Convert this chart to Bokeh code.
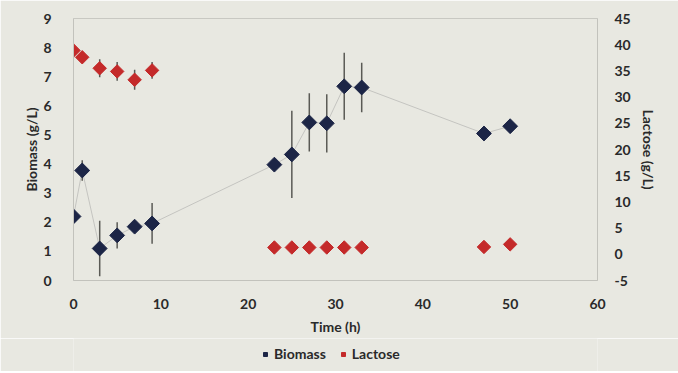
import math
from bokeh.plotting import figure
from bokeh.layouts import column
from bokeh.models import (ColumnDataSource, Range1d, LinearAxis, Whisker, Legend,
                          LegendItem, FixedTicker)
from bokeh.embed import file_html
from bokeh.resources import INLINE

# ---- data ----
bio_time = [0, 1, 3, 5, 7, 9, 23, 25, 27, 29, 31, 33, 47, 50]
biomass = [2.2, 3.78, 1.1, 1.55, 1.85, 1.96, 3.98, 4.33, 5.43, 5.4, 6.67, 6.63, 5.05, 5.3]
biomass_err = [0.15, 0.35, 0.95, 0.45, 0.15, 0.7, 0.1, 1.5, 1.0, 1.0, 1.15, 0.85, 0.1, 0.1]

lac_time = [0, 1, 3, 5, 7, 9, 23, 25, 27, 29, 31, 33, 47, 50]
lactose = [38.9, 37.6, 35.5, 34.9, 33.3, 35.1, 1.3, 1.3, 1.3, 1.3, 1.3, 1.3, 1.4, 1.9]
lactose_err = [0.5, 0.5, 1.7, 1.8, 1.9, 1.6, 0.2, 0.2, 0.2, 0.2, 0.2, 0.2, 0.2, 0.3]

x_ticks = [0, 10, 20, 30, 40, 50, 60]
left_ticks = [0, 1, 2, 3, 4, 5, 6, 7, 8, 9]
right_ticks = [-5, 0, 5, 10, 15, 20, 25, 30, 35, 40, 45]
series_names = ["Biomass", "Lactose"]

BG = "#e8e8e1"
NAVY = "#1c2546"
RED = "#c42a2a"
TXT = "#2a2a2a"
FONT = "Lato"

bio_src = ColumnDataSource(dict(
    x=bio_time, y=biomass,
    lo=[v - e for v, e in zip(biomass, biomass_err)],
    hi=[v + e for v, e in zip(biomass, biomass_err)]))
lac_src = ColumnDataSource(dict(
    x=lac_time, y=lactose,
    lo=[v - e for v, e in zip(lactose, lactose_err)],
    hi=[v + e for v, e in zip(lactose, lactose_err)]))

p = figure(frame_width=524, frame_height=262, output_backend="svg", toolbar_location=None,
           x_range=Range1d(0, 60), y_range=Range1d(0, 9),
           min_border_left=73, min_border_right=81, min_border_top=18,
           min_border_bottom=58)
p.background_fill_color = BG
p.border_fill_color = BG
p.outline_line_color = "#c8c8c2"
p.xgrid.visible = False
p.ygrid.visible = False
p.extra_y_ranges = {"lac": Range1d(-5, 45)}

def style_axis(ax, ticks):
    ax.ticker = FixedTicker(ticks=ticks)
    ax.axis_line_color = "#c2c2bc"
    ax.major_tick_line_color = None
    ax.minor_tick_line_color = None
    ax.major_label_text_font = FONT
    ax.major_label_text_font_style = "bold"
    ax.major_label_text_font_size = "14px"
    ax.major_label_text_color = TXT
    ax.axis_label_text_font = FONT
    ax.axis_label_text_font_style = "bold"
    ax.axis_label_text_font_size = "14px"
    ax.axis_label_text_color = TXT

style_axis(p.xaxis[0], x_ticks)
p.xaxis[0].axis_label = "Time (h)"
p.xaxis[0].major_label_standoff = 12
p.xaxis[0].axis_label_standoff = 6
style_axis(p.yaxis[0], left_ticks)
p.yaxis[0].axis_label = "Biomass (g/L)"
p.yaxis[0].major_label_standoff = 16
p.yaxis[0].axis_label_standoff = 0

rax = LinearAxis(y_range_name="lac", axis_label="Lactose (g/L)")
style_axis(rax, right_ticks)
rax.major_label_overrides = {t: str(t) for t in right_ticks}
rax.major_label_standoff = 11
rax.axis_label_standoff = 6
p.add_layout(rax, "right")

# connecting line for biomass
p.line("x", "y", source=bio_src, line_color="#c4c4c0", line_width=1)

p.add_layout(Whisker(source=bio_src, base="x", lower="lo", upper="hi",
                     line_color="#5a5a55", line_width=1.5,
                     upper_head=None, lower_head=None))
p.add_layout(Whisker(source=lac_src, base="x", lower="lo", upper="hi",
                     y_range_name="lac", line_color="#5a5a55", line_width=1.5,
                     upper_head=None, lower_head=None))

p.scatter("x", "y", source=bio_src, marker="square", size=10.5,
          angle=math.pi / 4, fill_color=NAVY, line_color=NAVY)
p.scatter("x", "y", source=lac_src, marker="square", size=9.5,
          angle=math.pi / 4, fill_color=RED, line_color=RED,
          y_range_name="lac")

# legend strip below the chart (its frame lines up with the chart's frame)
lg = figure(frame_width=524, height=33, output_backend="svg", toolbar_location=None,
            x_range=Range1d(0, 1), y_range=Range1d(0, 1),
            x_axis_type=None, y_axis_type=None,
            min_border_left=73, min_border_right=81, min_border_top=0,
            min_border_bottom=0)
lg.background_fill_color = BG
lg.border_fill_color = BG
lg.outline_line_color = None
lg.grid.visible = False
# first point of each series; it lies outside this strip's ranges, so only the
# legend swatch is seen
lb = lg.scatter(x=bio_time[:1], y=biomass[:1], marker="square", angle=math.pi / 4,
                size=8, fill_color=NAVY, line_color=NAVY)
ll = lg.scatter(x=lac_time[:1], y=lactose[:1], marker="square", angle=math.pi / 4,
                size=8, fill_color=RED, line_color=RED)
legend = Legend(items=[LegendItem(label=series_names[0], renderers=[lb]),
                       LegendItem(label=series_names[1], renderers=[ll])],
                orientation="horizontal", location=(187, 9),
                background_fill_alpha=0, border_line_color=None,
                label_text_font=FONT, label_text_font_style="bold",
                label_text_font_size="14px", label_text_color=TXT,
                glyph_width=10, glyph_height=10, label_standoff=4, spacing=12,
                padding=0, margin=0)
lg.add_layout(legend)

layout = column(p, lg, spacing=0)
open("out.html", "w").write(file_html(layout, INLINE))
